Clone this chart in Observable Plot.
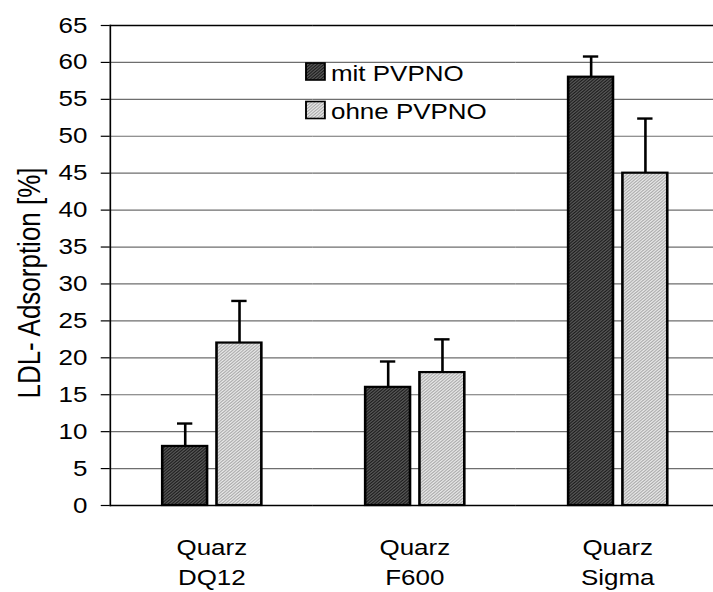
<!DOCTYPE html>
<html><head><meta charset="utf-8">
<script src="https://cdn.jsdelivr.net/npm/d3@7"></script>
<script src="https://cdn.jsdelivr.net/npm/@observablehq/plot@0.6"></script>
<style>
html,body{margin:0;padding:0;background:#fff;overflow:hidden;width:713px;height:592px;}
#wrap{position:relative;width:713px;height:592px;overflow:hidden;}
</style></head><body><div id="wrap"></div>
<script>
// ---- data ----
const categories = ["Quarz\nDQ12", "Quarz\nF600", "Quarz\nSigma"];
const series = ["mit PVPNO", "ohne PVPNO"];
const mitValues = [8, 16, 58];
const mitUpper = [11.1, 19.5, 60.8];
const ohneValues = [22, 18, 45];
const ohneUpper = [27.7, 22.5, 52.4];
const yTicks = [0, 5, 10, 15, 20, 25, 30, 35, 40, 45, 50, 55, 60, 65];
const yTitle = "LDL- Adsorption [%]";

const data = [];
categories.forEach((c, i) => {
  data.push({category: c, series: series[0], value: mitValues[i], upper: mitUpper[i]});
  data.push({category: c, series: series[1], value: ohneValues[i], upper: ohneUpper[i]});
});

// horizontal stretch of the original rendering
const S = 1.18;
const W = 720 / S;
const ML = 108 / S;
const font = "'Liberation Sans', Arial, sans-serif";

const chart = Plot.plot({
  width: W, height: 592,
  marginLeft: ML, marginRight: 0, marginTop: 25, marginBottom: 87,
  style: {fontFamily: font, fontSize: "22px", color: "#000", background: "transparent", overflow: "visible"},
  fx: {domain: categories, padding: 0, label: null},
  x: {domain: series, paddingInner: 0.182, paddingOuter: 0.945, axis: null},
  y: {domain: [0, 65], label: null},
  color: {domain: series, range: ["url(#patDark)", "url(#patLight)"]},
  marks: [
    Plot.gridY(yTicks, {stroke: "#6e6e6e", strokeOpacity: 1, strokeWidth: 1.2}),
    Plot.ruleY([65], {stroke: "#000", strokeWidth: 1.6}),
    Plot.barY(data, {fx: "category", x: "series", y: "value", fill: "series", stroke: "#000", strokeWidth: 2.2}),
    Plot.ruleX(data, {fx: "category", x: "series", y1: "value", y2: "upper", stroke: "#000", strokeWidth: 2.2}),
    Plot.tickY(data, {fx: "category", x: "series", y: "upper", stroke: "#000", strokeWidth: 2.4, insetLeft: 12.5, insetRight: 12.5}),
    Plot.ruleY([0], {stroke: "#000", strokeWidth: 1.6}),
    Plot.axisY(yTicks, {tickSize: 9 / S, tickPadding: 14 / S, tickFormat: d => String(d), strokeWidth: 1.2, label: null}),
    Plot.axisFx({anchor: "bottom", tickSize: 0, tickPadding: 28, lineHeight: 1.36, label: null}),
    Plot.frame({anchor: "left", facet: "super", stroke: "#000", strokeWidth: 1.4})
  ]
});

// patterns
const svg = d3.select(chart);
const defs = svg.insert("defs", ":first-child");
function pattern(id, base, line) {
  const p = defs.append("pattern").attr("id", id).attr("patternUnits", "userSpaceOnUse")
    .attr("width", 3).attr("height", 3);
  p.append("rect").attr("width", 3).attr("height", 3).attr("fill", base);
  p.append("path").attr("d", "M0,3 L3,0 M-1,1 L1,-1 M2,4 L4,2").attr("stroke", line).attr("stroke-width", 1);
}
pattern("patDark", "#5c5c5c", "#1a1a1a");
pattern("patLight", "#ececec", "#a8a8a8");

// y axis title
svg.append("text")
  .attr("transform", `translate(${29 / S},283) rotate(-90)`)
  .attr("text-anchor", "middle").attr("dominant-baseline", "central")
  .attr("font-family", font).attr("font-size", 26).attr("fill", "#000")
  .text(yTitle);

// legend (inside plot area)
const lg = svg.append("g").attr("font-family", font).attr("font-size", 22).attr("text-anchor", "start");
series.forEach((s, i) => {
  const y0 = 63 + i * 38.5;
  lg.append("rect").attr("x", 306 / S).attr("y", y0).attr("width", 16).attr("height", 17)
    .attr("fill", i === 0 ? "url(#patDark)" : "url(#patLight)").attr("stroke", "#000").attr("stroke-width", 1.6);
  lg.append("text").attr("x", 331 / S).attr("y", y0 + 18).attr("fill", "#000").text(s);
});

chart.setAttribute("preserveAspectRatio", "none");
chart.setAttribute("width", 720);
chart.setAttribute("height", 592);
chart.style.maxWidth = "none";
chart.style.width = "720px";
chart.style.height = "592px";
document.getElementById("wrap").appendChild(chart);
</script>
</body></html>
